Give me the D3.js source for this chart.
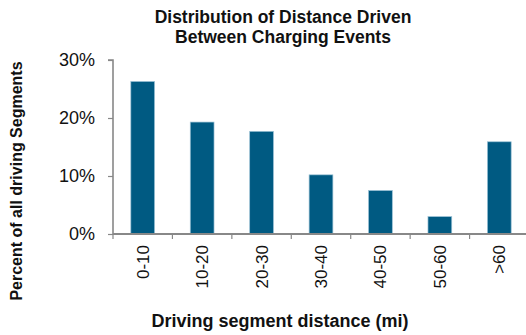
<!DOCTYPE html>
<html>
<head>
<meta charset="utf-8">
<script src="https://cdn.jsdelivr.net/npm/d3@7"></script>
<style>
  html, body { margin: 0; padding: 0; background: #fff; }
  svg { display: block; font-family: Arial, "Liberation Sans", sans-serif; }
</style>
</head>
<body>
<svg id="chart" width="526" height="335"></svg>
<script>
// Distance bins and share of driving segments in each
const categories = ["0-10", "10-20", "20-30", "30-40", "40-50", "50-60", ">60"];
const shares = [26.3, 19.3, 17.7, 10.2, 7.5, 3.0, 15.9];
const yTicks = [0, 10, 20, 30];

const svg = d3.select("#chart");
const plot = { left: 113, right: 529, top: 60, bottom: 234 };

const x = d3.scaleBand()
  .domain(categories)
  .range([plot.left, plot.right])
  .paddingInner(0.6)
  .paddingOuter(0.3);

const y = d3.scaleLinear()
  .domain([0, 30])
  .range([plot.bottom, plot.top]);

// Bars
svg.append("g")
  .selectAll("rect")
  .data(categories.map((c, i) => ({ c, v: shares[i] })))
  .join("rect")
  .attr("x", d => x(d.c))
  .attr("y", d => y(d.v))
  .attr("width", x.bandwidth())
  .attr("height", d => y(0) - y(d.v))
  .attr("fill", "#005A82")
  .attr("stroke", "#9cc2d6")
  .attr("stroke-width", 0.7);

// Y axis
const yAxis = svg.append("g")
  .attr("transform", `translate(${plot.left},0)`)
  .call(d3.axisLeft(y).tickValues(yTicks).tickFormat(d => d + "%").tickSize(5).tickPadding(13));
yAxis.select(".domain").attr("stroke", "#888").attr("stroke-width", 1.6).attr("d", `M-5,${plot.top}H0V${plot.bottom}`);
yAxis.selectAll(".tick line").attr("stroke", "#888").attr("stroke-width", 1.2);
yAxis.selectAll(".tick text").attr("font-size", 18).attr("fill", "#111").attr("font-family", "Arial, 'Liberation Sans', sans-serif");

// X axis: ticks sit on band boundaries
const edges = d3.range(categories.length + 1).map(i => plot.left + i * x.step());
const xAxisG = svg.append("g").attr("transform", `translate(0,${plot.bottom})`);
xAxisG.append("line")
  .attr("x1", plot.left).attr("x2", plot.right)
  .attr("stroke", "#888").attr("stroke-width", 2);
xAxisG.selectAll("line.tick")
  .data(edges.slice(0, -1))
  .join("line")
  .attr("class", "tick")
  .attr("x1", d => d).attr("x2", d => d)
  .attr("y1", 0).attr("y2", 5)
  .attr("stroke", "#888").attr("stroke-width", 1.2);

xAxisG.selectAll("text")
  .data(categories)
  .join("text")
  .attr("transform", d => `translate(${x(d) + x.bandwidth() / 2 + 6},${11}) rotate(-90)`)
  .attr("text-anchor", "end")
  .attr("font-size", 17)
  .attr("fill", "#111")
  .text(d => d);

// Title
const title = svg.append("text")
  .attr("text-anchor", "middle")
  .attr("font-size", 17.5)
  .attr("font-weight", "bold")
  .attr("fill", "#111");
title.append("tspan").attr("x", 283).attr("y", 23).text("Distribution of Distance Driven");
title.append("tspan").attr("x", 283).attr("y", 43).text("Between Charging Events");

// Axis titles
svg.append("text")
  .attr("x", 280).attr("y", 327)
  .attr("text-anchor", "middle")
  .attr("font-size", 18)
  .attr("font-weight", "bold")
  .attr("fill", "#111")
  .text("Driving segment distance (mi)");

svg.append("text")
  .attr("transform", "translate(22,181) rotate(-90)")
  .attr("text-anchor", "middle")
  .attr("font-size", 16)
  .attr("font-weight", "bold")
  .attr("fill", "#111")
  .text("Percent of all driving Segments");
</script>
</body>
</html>
